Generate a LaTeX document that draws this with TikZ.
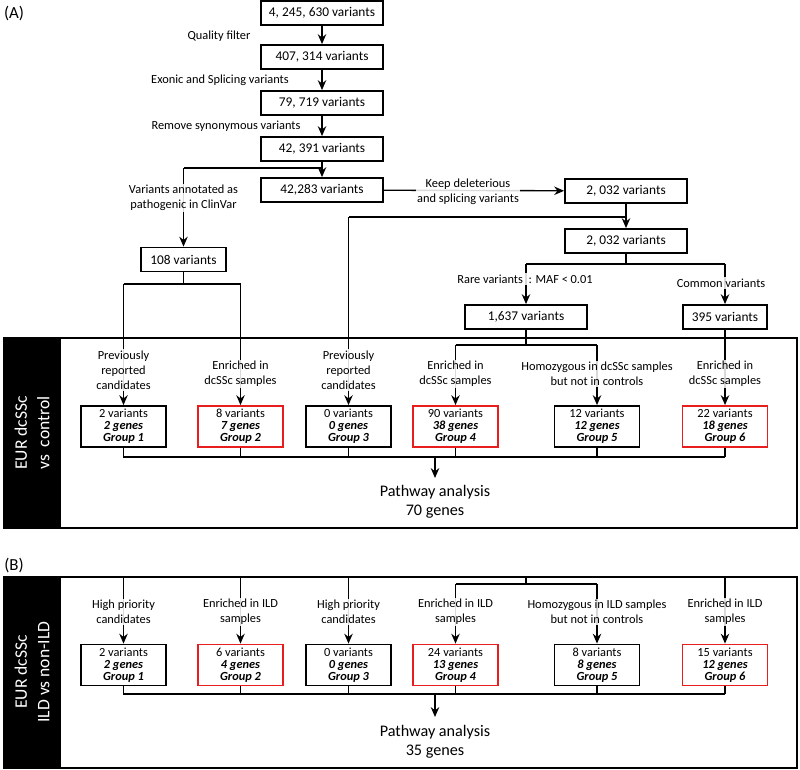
\documentclass[tikz,border=0pt]{standalone}
\usepackage{fontspec}
\setmainfont{Carlito}
\usetikzlibrary{arrows.meta}
\definecolor{hitred}{RGB}{232,30,30}
\newcommand{\gtext}[3]{#1 variants\\\textbf{\textit{#2 genes}}\\\textbf{\textit{Group #3}}}
\tikzset{
    flow/.style={line width=1pt},
    arr/.style={flow, -{Stealth[length=7pt,width=6pt]}},
    count/.style={draw, line width=1.3pt, minimum width=3.05cm, minimum height=0.6cm, inner sep=0pt, font=\fontsize{9.5}{11}\selectfont},
    group/.style={draw, line width=1.3pt, minimum width=2.125cm, minimum height=1.025cm, inner sep=0pt, align=center, font=\fontsize{8.8}{8.5}\selectfont},
    hit/.style={group, draw=hitred},
    lab/.style={align=center, fill=white, fill opacity=0.85, text opacity=1, inner sep=1pt, font=\fontsize{8.8}{10.6}\selectfont},
    side/.style={rotate=90, text=white, align=center, font=\fontsize{12.5}{16}\selectfont},
    sum/.style={align=center, font=\fontsize{11.5}{13.5}\selectfont},
    panelbox/.style={draw, line width=1.4pt},
}
\begin{document}
\begin{tikzpicture}[x=0.025cm, y=-0.025cm]
    \useasboundingbox (0,0) rectangle (800,769);
    \node[font=\fontsize{12}{14}\selectfont] (PA) at (14,13) {(A)};
    \node[font=\fontsize{12}{14}\selectfont] (PB) at (14,565) {(B)};
    \node[count] (v1) at (322,13) {4, 245, 630 variants};
    \node[count] (v2) at (322,57) {407, 314 variants};
    \node[count] (v3) at (322,103) {79, 719 variants};
    \node[count] (v4) at (322,149) {42, 391 variants};
    \node[count] (v5) at (322,190) {42,283 variants};
    \node[count] (v6) at (626,191) {2, 032 variants};
    \node[count] (v7) at (626,241) {2, 032 variants};
    \node[count, minimum width=2.125cm] (cv) at (183.5,259.5) {108 variants};
    \node[count] (rare) at (526,317) {1,637 variants};
    \node[count, minimum width=2.1cm] (common) at (725,317) {395 variants};
    \draw[panelbox] (4,338) rectangle (797,528);
    \fill (4,338) rectangle (61,528);
    \node[side] (sideA) at (32,433) {EUR dcSSc\\vs\ \ control};
    \draw[panelbox] (4,577) rectangle (797,768);
    \fill (4,577) rectangle (61,768);
    \node[side] (sideB) at (32,672) {EUR dcSSc\\ILD vs non-ILD};
    \node[group] (A_1) at (123.5,426.5) {\gtext{2}{2}{1}};
    \node[hit] (A_2) at (240.5,426.5) {\gtext{8}{7}{2}};
    \node[group] (A_3) at (348.5,426.5) {\gtext{0}{0}{3}};
    \node[hit] (A_4) at (455.5,426.5) {\gtext{90}{38}{4}};
    \node[group] (A_5) at (597,426.5) {\gtext{12}{12}{5}};
    \node[hit] (A_6) at (725,426.5) {\gtext{22}{18}{6}};
    \node[group] (B_1) at (123.5,665) {\gtext{2}{2}{1}};
    \node[hit] (B_2) at (240.5,665) {\gtext{6}{4}{2}};
    \node[group] (B_3) at (348.5,665) {\gtext{0}{0}{3}};
    \node[hit] (B_4) at (455.5,665) {\gtext{24}{13}{4}};
    \node[group] (B_5) at (597,665) {\gtext{8}{8}{5}};
    \node[hit] (B_6) at (725,665) {\gtext{15}{12}{6}};
    \coordinate (s_1) at (322,168);
    \coordinate (s_2) at (183.5,168);
    \coordinate (s_3) at (183.5,284);
    \coordinate (s_4) at (123.5,284);
    \coordinate (s_5) at (240.5,284);
    \coordinate (s_6) at (626,217);
    \coordinate (s_7) at (348.5,217);
    \coordinate (s_8) at (626,264);
    \coordinate (s_9) at (526,264);
    \coordinate (s_10) at (725,264);
    \coordinate (s_11) at (526,345);
    \coordinate (s_12) at (455.5,345);
    \coordinate (s_13) at (597,345);
    \coordinate (t_1) at (123.5,577);
    \coordinate (t_2) at (240.5,577);
    \coordinate (t_3) at (348.5,577);
    \coordinate (t_4) at (526,577);
    \coordinate (t_5) at (526,584);
    \coordinate (t_6) at (455.5,584);
    \coordinate (t_7) at (597,584);
    \coordinate (t_8) at (725,577);
    \coordinate (busA) at (435,457);
    \coordinate (busB) at (435,694);
    \draw[arr] (v1) -- (v2);
    \draw[arr] (v2) -- (v3);
    \draw[arr] (v3) -- (v4);
    \draw[arr] (v4) -- (v5);
    \draw[flow] (s_1) -- (s_2);
    \draw[arr] (s_2) -- (cv);
    \draw[flow] (cv) -- (s_3);
    \draw[flow] (s_4) -- (s_5);
    \draw[arr] (s_4) -- (A_1);
    \draw[arr] (s_5) -- (A_2);
    \draw[arr] (v5) -- (v6);
    \draw[arr] (v6) -- (v7);
    \draw[flow] (s_6) -- (s_7);
    \draw[arr] (s_7) -- (A_3);
    \draw[flow] (v7) -- (s_8);
    \draw[flow] (s_9) -- (s_10);
    \draw[arr] (s_9) -- (rare);
    \draw[arr] (s_10) -- (common);
    \draw[flow] (rare) -- (s_11);
    \draw[flow] (s_12) -- (s_13);
    \draw[arr] (s_12) -- (A_4);
    \draw[arr] (s_13) -- (A_5);
    \draw[arr] (common) -- (A_6);
    \draw[flow] (A_1.south) |- (A_6.south |- busA);
    \foreach \g in {A_2,A_3,A_4,A_5,A_6}
        \draw[flow] (\g.south) -- (\g.south |- busA);
    \draw[arr] (busA) -- ++(0,21);
    \draw[arr] (t_1) -- (B_1);
    \draw[arr] (t_2) -- (B_2);
    \draw[arr] (t_3) -- (B_3);
    \draw[flow] (t_4) -- (t_5);
    \draw[flow] (t_6) -- (t_7);
    \draw[arr] (t_6) -- (B_4);
    \draw[arr] (t_7) -- (B_5);
    \draw[arr] (t_8) -- (B_6);
    \draw[flow] (B_1.south) |- (B_6.south |- busB);
    \foreach \g in {B_2,B_3,B_4,B_5,B_6}
        \draw[flow] (\g.south) -- (\g.south |- busB);
    \draw[arr] (busB) -- ++(0,23);
    \node[lab] (q) at (219,36) {Quality filter};
    \node[lab] (ex) at (220,80) {Exonic and Splicing variants};
    \node[lab] (syn) at (226,126) {Remove synonymous variants};
    \node[lab] (path) at (183.5,198) {Variants annotated as\\pathogenic in ClinVar};
    \node[lab] (del) at (468,192) {Keep deleterious\\and splicing variants};
    \node[lab] (maf) at (525,279) {Rare variants\ \ : MAF < 0.01};
    \node[lab] (com) at (721,283) {Common variants};
    \node[lab] (la_1) at (123.5,370) {Previously\\reported\\candidates};
    \node[lab] (la_2) at (240.5,374) {Enriched in\\dcSSc samples};
    \node[lab] (la_3) at (348.5,370) {Previously\\reported\\candidates};
    \node[lab] (la_4) at (455.5,374) {Enriched in\\dcSSc samples};
    \node[lab] (la_5) at (597,374) {Homozygous in dcSSc samples\\but not in controls};
    \node[lab] (la_6) at (725,374) {Enriched in\\dcSSc samples};
    \node[lab] (lb_1) at (123.5,612) {High priority\\candidates};
    \node[lab] (lb_2) at (240.5,612) {Enriched in ILD\\samples};
    \node[lab] (lb_3) at (348.5,612) {High priority\\candidates};
    \node[lab] (lb_4) at (455.5,612) {Enriched in ILD\\samples};
    \node[lab] (lb_5) at (597,612) {Homozygous in ILD samples\\but not in controls};
    \node[lab] (lb_6) at (725,612) {Enriched in ILD\\samples};
    \node[sum] (pa) at (435,502) {Pathway analysis\\70 genes};
    \node[sum] (pb) at (435,742) {Pathway analysis\\35 genes};
\end{tikzpicture}
\end{document}
